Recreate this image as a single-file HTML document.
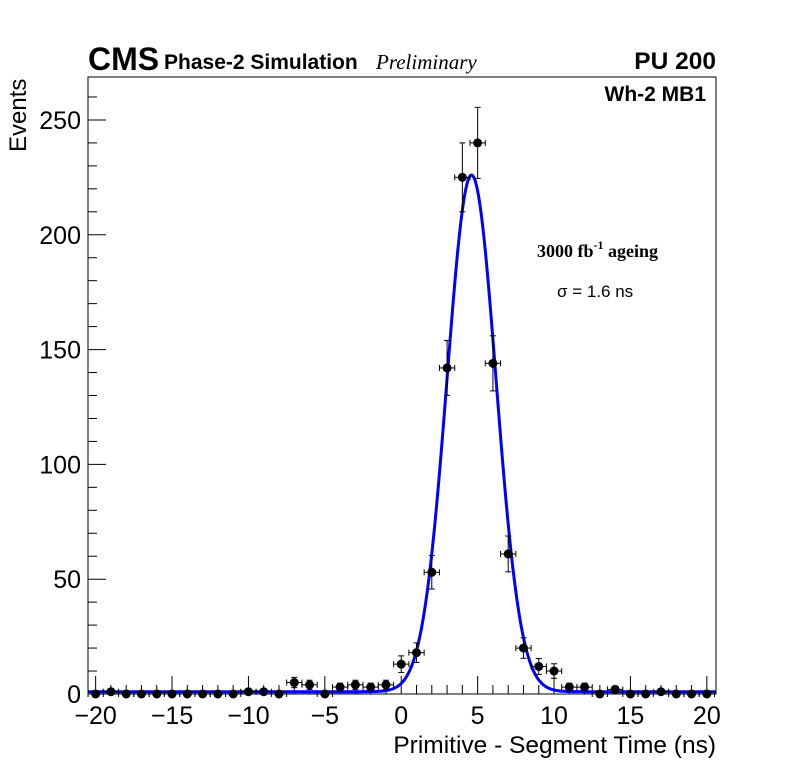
<!DOCTYPE html>
<html><head><meta charset="utf-8"><style>
body{margin:0;background:#fff;width:796px;height:772px;overflow:hidden}
svg{display:block}
text{font-family:"Liberation Sans",sans-serif}
</style></head><body>
<svg id="chart" width="796" height="772" xmlns="http://www.w3.org/2000/svg">
<g id="axes"></g>
<g id="fit"></g>
<g id="pts"></g>
<rect x="88" y="77" width="628" height="617" fill="none" stroke="#000" stroke-width="1"/>
<text x="88" y="70" font-size="32" font-weight="bold">CMS</text>
<text x="164" y="69" font-size="21" font-weight="bold">Phase-2 Simulation</text>
<text x="376" y="69" font-size="21" font-style="italic" style="font-family:'Liberation Serif',serif">Preliminary</text>
<text x="716" y="69" font-size="24.5" font-weight="bold" text-anchor="end">PU 200</text>
<text x="706" y="101" font-size="21" font-weight="bold" text-anchor="end">Wh-2 MB1</text>
<text x="537" y="257" font-size="18" font-weight="bold" style="font-family:'Liberation Serif',serif">3000 fb<tspan font-size="12" dy="-8">-1</tspan><tspan dy="8"> ageing</tspan></text>
<text x="557" y="297" font-size="17">σ = 1.6 ns</text>
<text x="716" y="753" font-size="24.5" text-anchor="end">Primitive - Segment Time (ns)</text>
<text transform="translate(26,152) rotate(-90)" font-size="24">Events</text>
</svg>
<script>
const xCenters=[-20,-19,-18,-17,-16,-15,-14,-13,-12,-11,-10,-9,-8,-7,-6,-5,-4,-3,-2,-1,0,1,2,3,4,5,6,7,8,9,10,11,12,13,14,15,16,17,18,19,20];
const counts=[0,1,0,0,0,0,0,0,0,0,1,1,0,5,4,0,3,4,3,4,13,18,53,142,225,240,144,61,20,12,10,3,3,0,2,0,0,1,0,0,0];
const fitMean=4.6, fitSigma=1.6, fitAmp=225, fitBase=1;
const xTicks=[-20,-15,-10,-5,0,5,10,15,20];
const yTicks=[0,50,100,150,200,250];
const L=88,R=716,T=77,B=694,xmin=-20.5,xmax=20.6,ymax=268.7;
const X=v=>L+(v-xmin)/(xmax-xmin)*(R-L);
const Y=v=>B-v/ymax*(B-T);
const NS="http://www.w3.org/2000/svg";
function mk(p,tag,a){const e=document.createElementNS(NS,tag);for(const k in a)e.setAttribute(k,a[k]);p.appendChild(e);return e;}
const ax=document.getElementById('axes');
for(let v=-20;v<=20;v++){const maj=v%5===0;const t=mk(ax,'line',{x1:X(v),x2:X(v),y1:B,y2:B-(maj?18:9),stroke:'#000'});

}
xTicks.forEach(v=>{const t=mk(ax,'text',{x:X(v),y:724,'font-size':25,'text-anchor':'middle'});t.textContent=v<0?'\u2212'+(-v):v;

});
for(let v=0;v<=260;v+=10){const maj=v%50===0;const t=mk(ax,'line',{x1:L,x2:L+(maj?18:9),y1:Y(v),y2:Y(v),stroke:'#000'});

}
yTicks.forEach(v=>{const t=mk(ax,'text',{x:81,y:Y(v)+9,'font-size':25,'text-anchor':'end'});t.textContent=v;

});
const fg=document.getElementById('fit');let d='';
for(let i=0;i<=600;i++){const x=xmin+(xmax-xmin)*i/600;const y=fitBase+fitAmp*Math.exp(-0.5*((x-fitMean)/fitSigma)**2);d+=(i?'L':'M')+X(x).toFixed(2)+','+Y(y).toFixed(2);}
const fp=mk(fg,'path',{d:d,fill:'none',stroke:'#0000ff','stroke-width':3});


const pg=document.getElementById('pts');
xCenters.forEach((x,i)=>{const c=counts[i];const e=Math.sqrt(c);const g=mk(pg,'g',{});


mk(g,'line',{x1:X(x-0.5),x2:X(x+0.5),y1:Y(c),y2:Y(c),stroke:'#000'});
mk(g,'line',{x1:X(x-0.5),x2:X(x-0.5),y1:Y(c)-3,y2:Y(c)+3,stroke:'#000'});
mk(g,'line',{x1:X(x+0.5),x2:X(x+0.5),y1:Y(c)-3,y2:Y(c)+3,stroke:'#000'});
if(c>0){mk(g,'line',{x1:X(x),x2:X(x),y1:Y(c+e),y2:Y(Math.max(0,c-e)),stroke:'#000'});
mk(g,'line',{x1:X(x)-3,x2:X(x)+3,y1:Y(c+e),y2:Y(c+e),stroke:'#000'});
mk(g,'line',{x1:X(x)-3,x2:X(x)+3,y1:Y(c-e),y2:Y(c-e),stroke:'#000'});}
mk(g,'circle',{cx:X(x),cy:Y(c),r:4.5,fill:'#000'});});
</script>
</body></html>
